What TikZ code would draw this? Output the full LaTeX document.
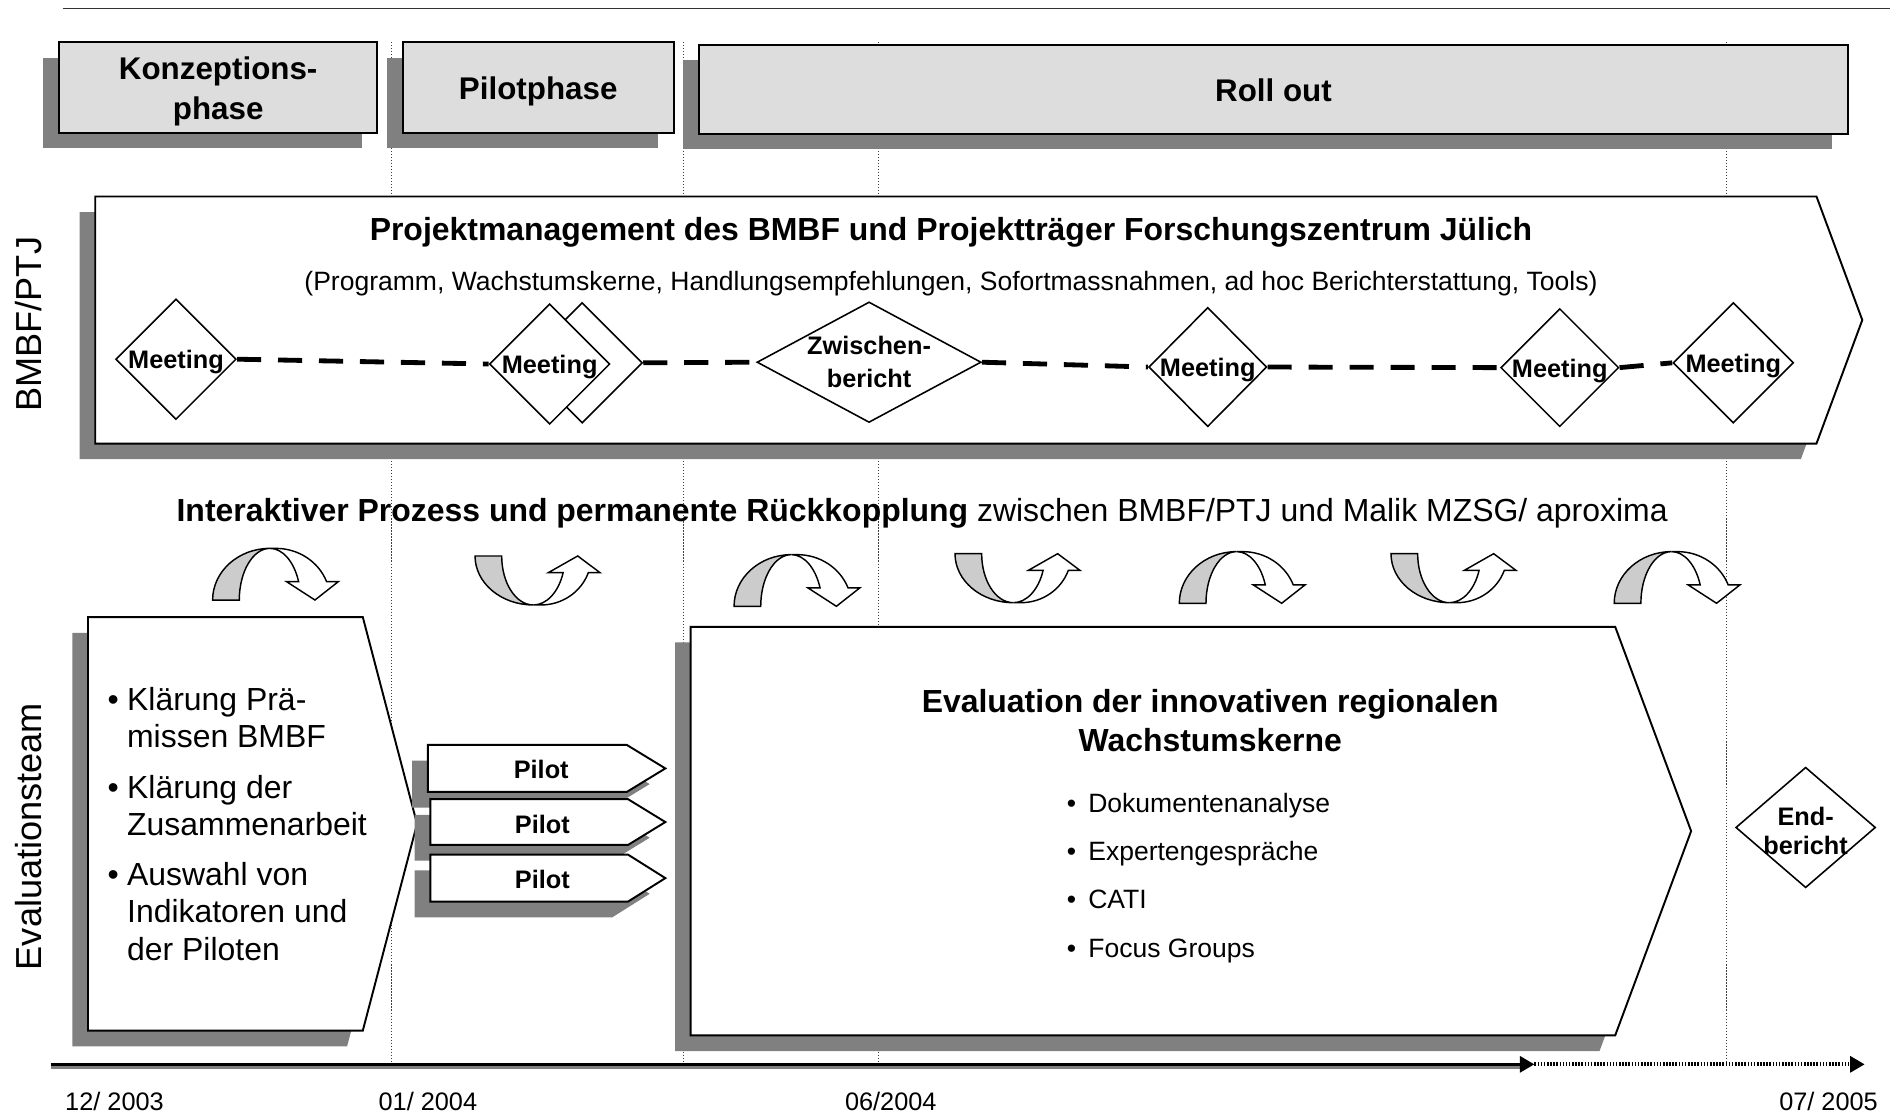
\documentclass[tikz,border=0pt]{standalone}
\usepackage{fontspec}
\setmainfont{Liberation Sans}
\usetikzlibrary{shapes.geometric,arrows.meta,shadows}
\definecolor{shadowgray}{HTML}{808080}
\definecolor{phasegray}{HTML}{DDDDDD}
\definecolor{leggray}{HTML}{CCCCCC}
\newcommand\pentshape[6][]{\path[#1] (#2,#3) -- (#4,#3) -- (#5,{(#3+#6)/2}) -- (#4,#6) -- (#2,#6) -- cycle;}
\newcommand\arrowA[2]{%
\begin{scope}[shift={(#1,#2)}, xscale=0.2765, yscale=-0.2765]
\path[grayleg] (0,0) arc[start angle=180, end angle=90, x radius=172, y radius=155] arc[start angle=90, end angle=180, x radius=92, y radius=155] -- cycle;
\path[whiteleg] (172,155) arc[start angle=90, end angle=20.8, x radius=92, y radius=155] -- (222,55) -- (307,0) -- (377,55) -- (342,55) arc[start angle=20.8, end angle=90, x radius=162.6, y radius=155] -- cycle;
\end{scope}}
\newcommand\arrowB[2]{%
\begin{scope}[shift={(#1,#2)}, xscale=0.2765, yscale=-0.2765]
\path[grayleg] (0,147) -- (80,147) arc[start angle=180, end angle=270, x radius=95, y radius=147] arc[start angle=270, end angle=180, x radius=175, y radius=147] -- cycle;
\path[whiteleg] (175,0) arc[start angle=270, end angle=340.1, x radius=95, y radius=147] -- (220,97) -- (308,147) -- (375,97) -- (340,97) arc[start angle=340.1, end angle=270, x radius=151, y radius=147] -- cycle;
\end{scope}}
\begin{document}
\begin{tikzpicture}[x=1pt, y=-1pt,
  dshadow/.style={drop shadow={shadow xshift=-13pt, shadow yshift=-13pt, fill=shadowgray, opacity=1}},
  phasebox/.style={draw=black, line width=1.6pt, fill=phasegray, inner sep=0pt},
  phasetxt/.style={inner sep=0pt, align=center, font=\fontsize{26}{33}\selectfont\bfseries},
  whitebox/.style={draw=black, line width=1.6pt, fill=white},
  vdot/.style={draw=black!75, line width=0.9pt, dash pattern=on 1pt off 1.5pt},
  dia/.style={diamond, draw=black, fill=white, line width=1.3pt, inner sep=0pt, minimum width=100pt, minimum height=100pt},
  meetdash/.style={line width=4pt, dash pattern=on 20pt off 14pt},
  boldsm/.style={font=\fontsize{21}{25}\selectfont\bfseries, align=center, inner sep=0pt},
  meettxt/.style={boldsm, yshift=-2.5pt},
  titletxt/.style={font=\fontsize{26.5}{32}\selectfont\bfseries, align=center, inner sep=0pt},
  bodytxt/.style={font=\fontsize{22}{26}\selectfont, inner sep=0pt},
  sidetxt/.style={font=\fontsize{30}{36}\selectfont, rotate=90, inner sep=0pt},
  datetxt/.style={font=\fontsize{21}{25}\selectfont, inner sep=0pt},
  grayleg/.style={fill=leggray, draw=black, line width=1.2pt},
  whiteleg/.style={fill=white, draw=black, line width=1.2pt},
]
\useasboundingbox[fill=white] (0,0) rectangle (1568,925);

% vertical dotted guide lines
\foreach \xx in {325,567,729,1432} \draw[vdot] (\xx,35) -- (\xx,885);

% top rule
\draw[line width=1.2pt, black!80] (52,7) -- (1568,7);

% phase boxes
\node[phasebox, dshadow, minimum width=264pt, minimum height=75pt] (konz) at (181,72.5) {};
\node[phasetxt] (konzt) at (181,76) {Konzeptions-\\phase};
\node[phasebox, dshadow, minimum width=225pt, minimum height=75pt] (pilotph) at (446.5,72.5) {};
\node[phasetxt] (pilotpht) at (446.5,75.5) {Pilotphase};
\node[phasebox, dshadow, minimum width=953pt, minimum height=74pt] (rollout) at (1056.5,74) {};
\node[phasetxt] (rolloutt) at (1056.5,75) {Roll out};

% BMBF box
\pentshape[whitebox, dshadow]{79}{163}{1507}{1545}{368}
\node[titletxt] (pmtitle) at (789,193) {Projektmanagement des BMBF und Projektträger Forschungszentrum Jülich};
\node[bodytxt] (pmsub) at (789,235) {(Programm, Wachstumskerne, Handlungsempfehlungen, Sofortmassnahmen, ad hoc Berichterstattung, Tools)};

% side labels
\node[sidetxt] (lbmbf) at (24,269) {BMBF/PTJ};
\node[sidetxt] (leval) at (24,694) {Evaluationsteam};

% milestones
\node[dia] (m1) at (146,298) {};
\node[dia] (m2b) at (483,301) {};
\node[dia] (m2) at (456,302) {};
\node[dia, minimum width=186pt] (zb) at (721,300.5) {};
\node[dia, minimum width=98pt, minimum height=99pt] (m3) at (1002,304.5) {};
\node[dia, minimum width=98pt, minimum height=98pt] (m4) at (1294,305) {};
\node[dia] (m5) at (1438,301) {};
\node[meettxt] (m1t) at (m1) {Meeting};
\node[meettxt] (m2t) at (m2) {Meeting};
\node[boldsm, font=\fontsize{21}{27}\selectfont\bfseries] (zbt) at (zb) {Zwischen-\\bericht};
\node[meettxt] (m3t) at (m3) {Meeting};
\node[meettxt] (m4t) at (m4) {Meeting};
\node[meettxt] (m5t) at (m5) {Meeting};
\draw[meetdash] (m1.east) -- (m2.west);
\draw[meetdash] (m2b.east) -- (zb.west);
\draw[meetdash] (zb.east) -- (m3.west);
\draw[meetdash] (m3.east) -- (m4.west);
\draw[meetdash] (m4.east) -- (m5.west);

% interaction line
\node[font=\fontsize{26.5}{32}\selectfont, inner sep=0pt] (inter) at (765,426) {\textbf{Interaktiver Prozess und permanente Rückkopplung} zwischen BMBF/PTJ und Malik MZSG/ aproxima};

% feedback arrows
\arrowA{176.4}{497.8}
\arrowB{394.1}{501.9}
\arrowA{609}{503}
\arrowB{792.3}{500}
\arrowA{978.4}{500.5}
\arrowB{1154}{500}
\arrowA{1339.2}{500.5}

% left evaluation box
\pentshape[whitebox, dshadow]{73}{512}{301}{346}{855}
\node[anchor=base west, inner sep=0pt, font=\fontsize{26.5}{31}\selectfont] (evlist) at (89,589.5) {\begin{tabular}[t]{@{}l@{\hspace{7pt}}l@{}}\textbullet & Klärung Prä-\\ & missen BMBF\\[11pt] \textbullet & Klärung der\\ & Zusammenarbeit\\[10pt] \textbullet & Auswahl von\\ & Indikatoren und\\ & der Piloten\end{tabular}};

% pilots
\pentshape[whitebox, dshadow]{355}{618}{520}{552}{657}
\node[boldsm] (p1t) at (449,638) {Pilot};
\pentshape[whitebox, dshadow]{357}{663}{521}{552}{701}
\node[boldsm] (p2t) at (450,684) {Pilot};
\pentshape[whitebox, dshadow]{357}{709}{521}{552}{748}
\node[boldsm] (p3t) at (450,730) {Pilot};

% main evaluation box
\pentshape[whitebox, dshadow]{573}{520}{1340}{1403}{859}
\node[titletxt] (evtitle) at (1004,598) {Evaluation der innovativen regionalen\\Wachstumskerne};
\node[anchor=base west, inner sep=0pt, font=\fontsize{22}{40}\selectfont] (evbul) at (885,674) {\begin{tabular}[t]{@{}l@{\hspace{10pt}}l@{}}\textbullet & Dokumentenanalyse\\ \textbullet & Expertengespräche\\ \textbullet & CATI\\ \textbullet & Focus Groups\end{tabular}};

% final report
\node[dia, minimum width=116pt, minimum height=100pt] (endb) at (1498,686.5) {};
\node[boldsm, font=\fontsize{21}{24}\selectfont\bfseries] (endbt) at (1498,689) {End-\\bericht};

% timeline
\coordinate (t0) at (42,883);
\coordinate (t1) at (1273,883);
\coordinate (t2) at (1547,883);
\draw[line width=2pt, shadowgray] (42,885.5) -- (1262,885.5);
\draw[line width=3pt, -{Triangle[length=12pt,width=13pt]}] (t0) -- (t1);
\draw[line width=3.5pt, dash pattern=on 1.3pt off 1.3pt, -{Triangle[length=12pt,width=13pt]}] (t1) -- (t2);

\node[datetxt] (d1) at (95,914) {12/ 2003};
\node[datetxt] (d2) at (355,914) {01/ 2004};
\node[datetxt] (d3) at (739,914) {06/2004};
\node[datetxt] (d4) at (1517,914) {07/ 2005};
\end{tikzpicture}
\end{document}
